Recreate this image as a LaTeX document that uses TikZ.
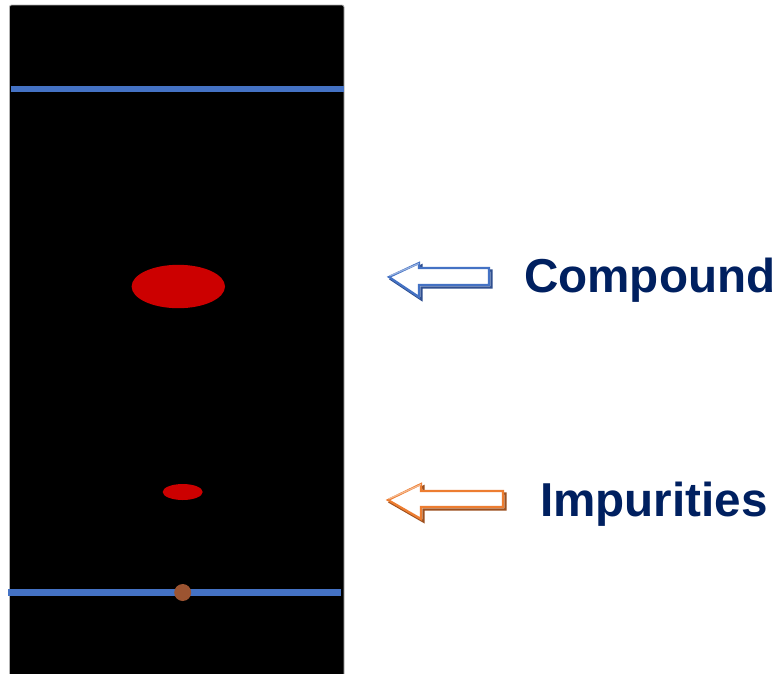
\documentclass[tikz,border=0pt]{standalone}
\usepackage{fontspec}
\setmainfont{Liberation Sans}
\begin{document}
\begin{tikzpicture}[x=1pt,y=-1pt,
  front/.style={solid line, line width=6.5pt, draw=frontblue},
  spot/.style={fill=spotred},
  label/.style={font=\fontsize{47.6}{50}\selectfont\bfseries, text=navy, inner sep=0pt, anchor=base west},
  solid line/.style={line cap=butt}]
\definecolor{frontblue}{HTML}{4472C4}
\definecolor{spotred}{HTML}{CC0000}
\definecolor{origin}{HTML}{9C5431}
\definecolor{navy}{HTML}{002060}
\definecolor{arrowblue}{HTML}{4472C4}
\definecolor{arrowblueshade}{HTML}{2F4F8F}
\definecolor{arroworange}{HTML}{ED7D31}
\definecolor{arroworangeshade}{HTML}{9C4F1E}
\useasboundingbox (0,0) rectangle (782,673);
\fill[white] (0,0) rectangle (782,673);
% TLC plate
\filldraw[fill=black, draw=gray!60, line width=0.8pt, rounded corners=2pt] (9.5,5) rectangle (344,680);
% solvent front and baseline
\draw[front] (11,88.8) -- (344,88.8);
\draw[front] (8,592.5) -- (341,592.5);
% spots
\fill[spot] (178.3,286.5) ellipse [x radius=46.7, y radius=21.7];
\fill[spot] (182.7,492) ellipse [x radius=20, y radius=8];
\fill[origin] (182.7,592.5) circle (8.5);
% hollow arrows with offset shadow
\newcommand{\hollowarrow}[9]{%
  % #1 tip x, #2 tip y, #3 head back x, #4 head top, #5 head bottom,
  % #6 shaft top, #7 shaft bottom, #8 tail x, #9 colour name
  \draw[#9shade, line width=2.4pt, line join=miter]
    (#1+2.5,#2+2.5) -- (#3+2.5,#4+2.5) -- (#3+2.5,#6+2.5) -- (#8+2.5,#6+2.5)
    -- (#8+2.5,#7+2.5) -- (#3+2.5,#7+2.5) -- (#3+2.5,#5+2.5) -- cycle;
  \filldraw[fill=white, draw=#9, line width=2.2pt, line join=miter]
    (#1,#2) -- (#3,#4) -- (#3,#6) -- (#8,#6)
    -- (#8,#7) -- (#3,#7) -- (#3,#5) -- cycle;
  \draw[#9!55!white, line width=1.2pt] (#1+0.5,#2-1) -- (#3,#4+0.5);
}
\hollowarrow{389}{277}{419}{263}{297}{268}{285}{489}{arrowblue}
\hollowarrow{388}{500}{421}{484}{519}{491}{507}{503}{arroworange}
% labels
\node[label] (compound) at (524,292) {Compound};
\node[label] (impurities) at (540,516) {Impurities};
\end{tikzpicture}
\end{document}
